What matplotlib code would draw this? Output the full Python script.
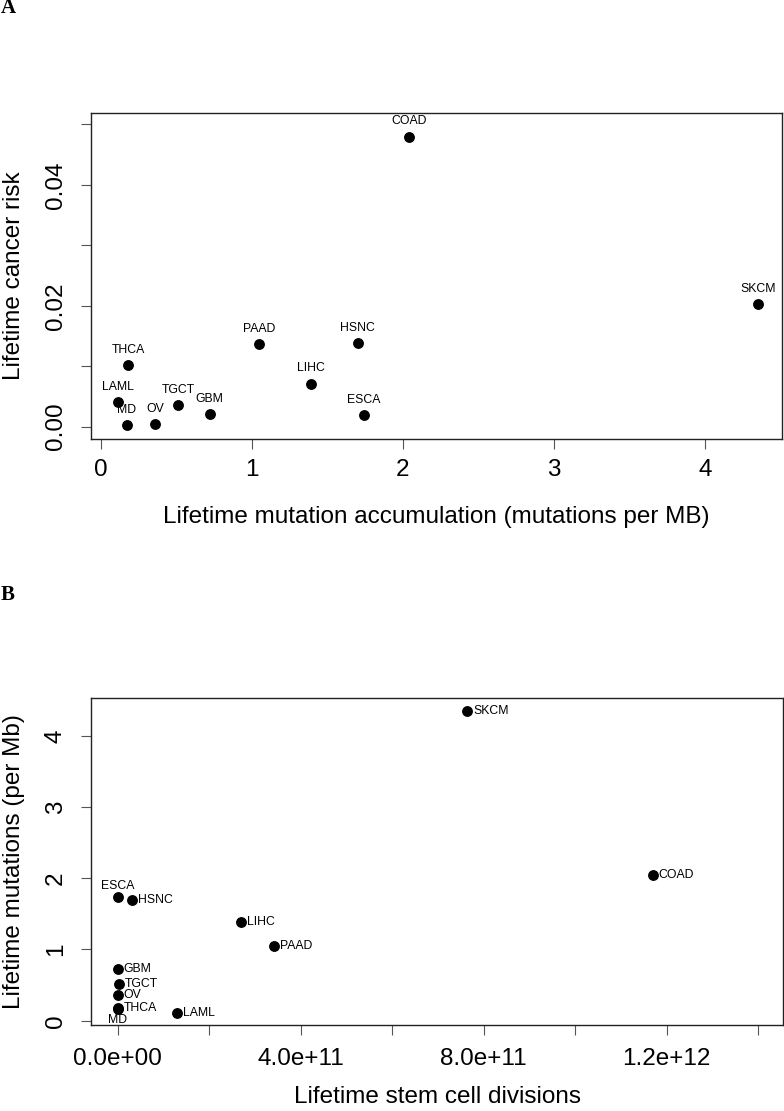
import matplotlib
matplotlib.use("Agg")
import matplotlib.pyplot as plt
from matplotlib.ticker import FixedLocator

plt.rcParams['font.family'] = ['Liberation Sans', 'DejaVu Sans']

# ---- data ----
cancers = ["COAD", "SKCM", "PAAD", "HSNC", "THCA", "LIHC", "LAML",
           "TGCT", "GBM", "ESCA", "MD", "OV"]
mutations_per_mb = [2.04, 4.35, 1.05, 1.70, 0.18, 1.39, 0.11,
                    0.51, 0.72, 1.74, 0.17, 0.36]
cancer_risk = [0.0480, 0.0203, 0.0136, 0.0138, 0.0102, 0.0071, 0.0040,
               0.0036, 0.0021, 0.0019, 0.0002, 0.0004]
stem_divisions = [11.69e11, 7.63e11, 3.42e11, 0.31e11, 0.0, 2.70e11, 1.30e11,
                  0.03e11, 0.0, 0.01e11, 0.0, 0.0]

a_xticks = [0, 1, 2, 3, 4]
a_yticks = [0.00, 0.01, 0.02, 0.03, 0.04, 0.05]
a_ylabels = ["0.00", "", "0.02", "", "0.04", ""]
b_xticks = [0, 2e11, 4e11, 6e11, 8e11, 1.0e12, 1.2e12, 1.4e12]
b_xlabels = ["0.0e+00", "", "4.0e+11", "", "8.0e+11", "", "1.2e+12", ""]
b_yticks = [0, 1, 2, 3, 4]

# label placement for panel B: 'right', 'above', 'below'
b_pos = {"ESCA": "above", "MD": "below"}

W, H = 784, 1111
fig = plt.figure(figsize=(W / 100, H / 100), dpi=100)

TICK_FS = 17.5
AXLAB_FS = 17.5


def ax_rect(l, t, r, b):
    return [l / W, 1 - b / H, (r - l) / W, (b - t) / H]


def style(ax, xpad):
    for s in ax.spines.values():
        s.set_color("#222222")
        s.set_linewidth(1.0)
    ax.tick_params(direction="out", length=7, width=0.8, color="#555555",
                   labelsize=TICK_FS)
    ax.tick_params(axis="x", pad=xpad)
    ax.tick_params(axis="y", pad=10.5)
    for lab in ax.get_yticklabels():
        lab.set_rotation(90)
        lab.set_va("center")


LABEL_FS = 8.8
MS = 6.8

# ---- Panel A ----
axA = fig.add_axes(ax_rect(91, 113, 782, 439))
axA.plot(mutations_per_mb, cancer_risk, "o", color="black", markersize=MS,
         linestyle="none")
for name, x, y in zip(cancers, mutations_per_mb, cancer_risk):
    axA.annotate(name, (x, y), xytext=(0, 11), textcoords="offset points",
                 ha="center", va="center", fontsize=LABEL_FS)
axA.set_xlim(-0.066, 4.511)
axA.set_ylim(-0.00204, 0.0519)
axA.xaxis.set_major_locator(FixedLocator(a_xticks))
axA.set_xticklabels([str(t) for t in a_xticks])
axA.yaxis.set_major_locator(FixedLocator(a_yticks))
axA.set_yticklabels(a_ylabels)
style(axA, 7.5)
axA.set_xlabel("Lifetime mutation accumulation (mutations per MB)", fontsize=AXLAB_FS)
axA.set_ylabel("Lifetime cancer risk", fontsize=AXLAB_FS)
axA.xaxis.set_label_coords(0.5, -77.7 / 326)
axA.xaxis.label.set_va("center")
axA.yaxis.set_label_coords(-77.0 / 691, 0.5)
axA.yaxis.label.set_va("center")

# ---- Panel B ----
axB = fig.add_axes(ax_rect(91, 698, 783, 1025))
axB.plot(stem_divisions, mutations_per_mb, "o", color="black", markersize=MS,
         linestyle="none")
for name, x, y in zip(cancers, stem_divisions, mutations_per_mb):
    pos = b_pos.get(name, "right")
    if pos == "right":
        axB.annotate(name, (x, y), xytext=(4.5, 0), textcoords="offset points",
                     ha="left", va="center", fontsize=LABEL_FS)
    elif pos == "above":
        axB.annotate(name, (x, y), xytext=(0, 7.7), textcoords="offset points",
                     ha="center", va="center", fontsize=LABEL_FS)
    else:
        axB.annotate(name, (x, y), xytext=(0, -8), textcoords="offset points",
                     ha="center", va="center", fontsize=LABEL_FS)
axB.set_xlim(-0.58e11, 14.54e11)
axB.set_ylim(-0.06, 4.53)
axB.xaxis.set_major_locator(FixedLocator(b_xticks))
axB.set_xticklabels(b_xlabels)
axB.yaxis.set_major_locator(FixedLocator(b_yticks))
axB.set_yticklabels([str(t) for t in b_yticks])
style(axB, 9.5)
axB.set_xlabel("Lifetime stem cell divisions", fontsize=AXLAB_FS)
axB.set_ylabel("Lifetime mutations (per Mb)", fontsize=AXLAB_FS)
axB.xaxis.set_label_coords(0.5, -72.0 / 327)
axB.xaxis.label.set_va("center")
axB.yaxis.set_label_coords(-77.0 / 692, 0.5)
axB.yaxis.label.set_va("center")

# panel letters
fig.text(8 / W, 1 - 8 / H, "A", fontsize=15, fontweight="bold",
         family="Liberation Serif", ha="center", va="center")
fig.text(8 / W, 1 - 594.5 / H, "B", fontsize=15, fontweight="bold",
         family="Liberation Serif", ha="center", va="center")

fig.savefig("out.png", dpi=100)
